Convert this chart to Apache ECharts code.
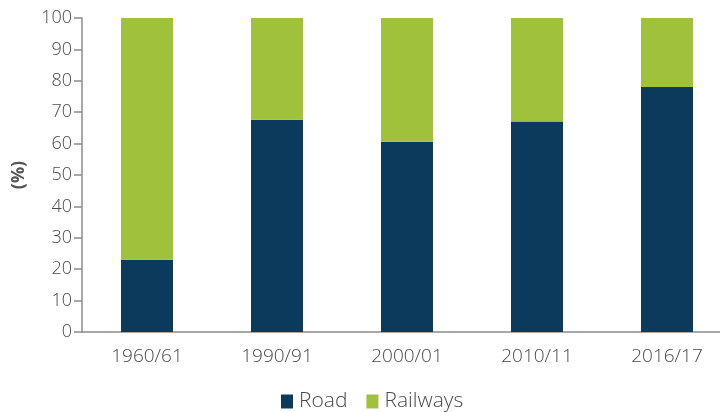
<!DOCTYPE html>
<html><head><meta charset="utf-8">
<script src="https://cdn.jsdelivr.net/npm/echarts@6/dist/echarts.min.js"></script>
<style>html,body{margin:0;padding:0;background:#fff;overflow:hidden}#c{width:732px;height:412px}</style>
</head><body><div id="c"></div>
<script>
const categories = ['1960/61','1990/91','2000/01','2010/11','2016/17'];
const road = [23.0, 67.6, 60.6, 67.0, 78.0];
const railways = [77.0, 32.4, 39.4, 33.0, 22.0];
const yTicks = [0,10,20,30,40,50,60,70,80,90,100];

const chart = echarts.init(document.getElementById('c'), null, {renderer:'canvas'});
const font = '"Open Sans", Lato, sans-serif';
chart.setOption({
  animation:false,
  grid:{left:82, right:0, top:18, height:314},
  legend:{
    top:391, left:281, padding:0, itemWidth:12, itemHeight:14, itemGap:19,
    icon:'rect',
    textStyle:{fontFamily:font, fontSize:21, fontWeight:300, color:'#4a4a4a', padding:[0,0,0,1]},
    data:['Road','Railways']
  },
  xAxis:{
    type:'category', data:categories,
    axisLine:{lineStyle:{color:'#8c8c8c', width:1.5}},
    axisTick:{show:false},
    axisLabel:{fontFamily:font, fontSize:19, fontWeight:300, color:'#4a4a4a', margin:15}
  },
  yAxis:{
    type:'value', min:yTicks[0], max:yTicks[yTicks.length-1], interval:10,
    name:'(%)', nameLocation:'middle', nameGap:54, nameRotate:90,
    nameTextStyle:{fontFamily:font, fontSize:18, fontWeight:'bold', color:'#555'},
    axisLine:{show:true, lineStyle:{color:'#8c8c8c', width:1.5}},
    axisTick:{show:true, length:8, lineStyle:{color:'#8c8c8c', width:1.5}},
    splitLine:{show:false},
    axisLabel:{fontFamily:font, fontSize:18, fontWeight:300, color:'#4a4a4a', margin:10}
  },
  series:[
    {name:'Road', type:'bar', stack:'a', data:road, barWidth:52, itemStyle:{color:'#0b3a5c'}},
    {name:'Railways', type:'bar', stack:'a', data:railways, barWidth:52, itemStyle:{color:'#9fc13c'}}
  ]
});
</script></body></html>
